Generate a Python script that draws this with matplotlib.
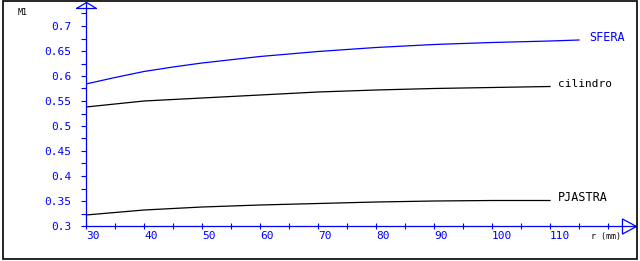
import matplotlib
matplotlib.use("Agg")
import matplotlib.pyplot as plt
from matplotlib.patches import Rectangle
from matplotlib.path import Path
from matplotlib.ticker import MultipleLocator

# data
r_sfera = [30, 35, 40, 45, 50, 60, 70, 80, 90, 100, 110, 115]
m_sfera = [0.584, 0.597, 0.609, 0.618, 0.626, 0.639, 0.649, 0.657, 0.663, 0.667, 0.670, 0.672]

r_cil = [30, 40, 50, 60, 70, 80, 90, 100, 110]
m_cil = [0.538, 0.550, 0.556, 0.562, 0.568, 0.572, 0.575, 0.577, 0.579]

r_pia = [30, 40, 50, 60, 70, 80, 90, 100, 110]
m_pia = [0.322, 0.332, 0.338, 0.342, 0.345, 0.348, 0.350, 0.351, 0.351]

x_ticks = [30, 40, 50, 60, 70, 80, 90, 100, 110]
y_ticks = [0.3, 0.35, 0.4, 0.45, 0.5, 0.55, 0.6, 0.65, 0.7]

BLUE = "#0000ff"
W, H = 640, 261
plt.rcParams["font.family"] = ["DejaVu Sans Mono", "DejaVu Sans"]

fig = plt.figure(figsize=(W / 100, H / 100), dpi=100)
ax = fig.add_axes([86 / W, 1 - 226 / H, 550 / W, 224 / H])

lw = 0.9
ax.plot(r_sfera, m_sfera, color=BLUE, lw=lw)
ax.plot(r_cil, m_cil, color="black", lw=lw)
ax.plot(r_pia, m_pia, color="black", lw=lw)

# curve labels next to the last point
ax.annotate("SFERA", (r_sfera[-1], m_sfera[-1]), xytext=(7.5, 2), textcoords="offset points",
            color=BLUE, fontsize=8.5, va="center", ha="left")
ax.annotate("cilindro", (r_cil[-1], m_cil[-1]), xytext=(6, 2), textcoords="offset points",
            color="black", fontsize=8, va="center", ha="left")
ax.annotate("PJASTRA", (r_pia[-1], m_pia[-1]), xytext=(6, 2.5), textcoords="offset points",
            color="black", fontsize=8.5, va="center", ha="left")

ax.set_xlim(30, 30 + 550 / 5.8)
ax.set_ylim(0.3, 0.3 + 224 / 500)

ax.set_xticks(x_ticks)
ax.set_xticklabels([str(v) for v in x_ticks], ha="left")
ax.set_yticks(y_ticks)
ax.set_yticklabels([f"{v:g}" for v in y_ticks])
ax.xaxis.set_minor_locator(MultipleLocator(5))
ax.yaxis.set_minor_locator(MultipleLocator(0.025))

ax.tick_params(axis="x", which="both", direction="inout", length=5, width=0.8,
               color=BLUE, labelcolor=BLUE, labelsize=8, pad=1)
ax.tick_params(axis="y", which="both", direction="out", length=3.6, width=0.8,
               color=BLUE, labelcolor=BLUE, labelsize=8, pad=7)

for side in ("top", "right"):
    ax.spines[side].set_visible(False)
for side in ("left", "bottom"):
    ax.spines[side].set_color(BLUE)
    ax.spines[side].set_linewidth(0.9)

# open arrow heads at the ends of the axes
up = Path([(-10, -6), (10, -6), (0, 0), (-10, -6)])
right = Path([(0, 0), (-14, 7.5), (-14, -7.5), (0, 0)])
ax.plot([0], [1], transform=ax.transAxes, marker=up, ms=14.4, mfc="none",
        mec=BLUE, mew=0.9, clip_on=False)
ax.plot([1], [0], transform=ax.transAxes, marker=right, ms=20.2, mfc="none",
        mec=BLUE, mew=0.9, clip_on=False)

fig.text(18 / W, 1 - 12.5 / H, "M1", fontsize=6, va="center", ha="left")
fig.text(591 / W, 1 - 237 / H, "r (mm)", fontsize=6, va="center", ha="left")

# outer frame
fig.patches.append(Rectangle((3 / W, 1 - 259 / H), 634 / W, 258 / H, transform=fig.transFigure,
                             fill=False, edgecolor="black", lw=1.2))

fig.savefig("out.png", dpi=100)
